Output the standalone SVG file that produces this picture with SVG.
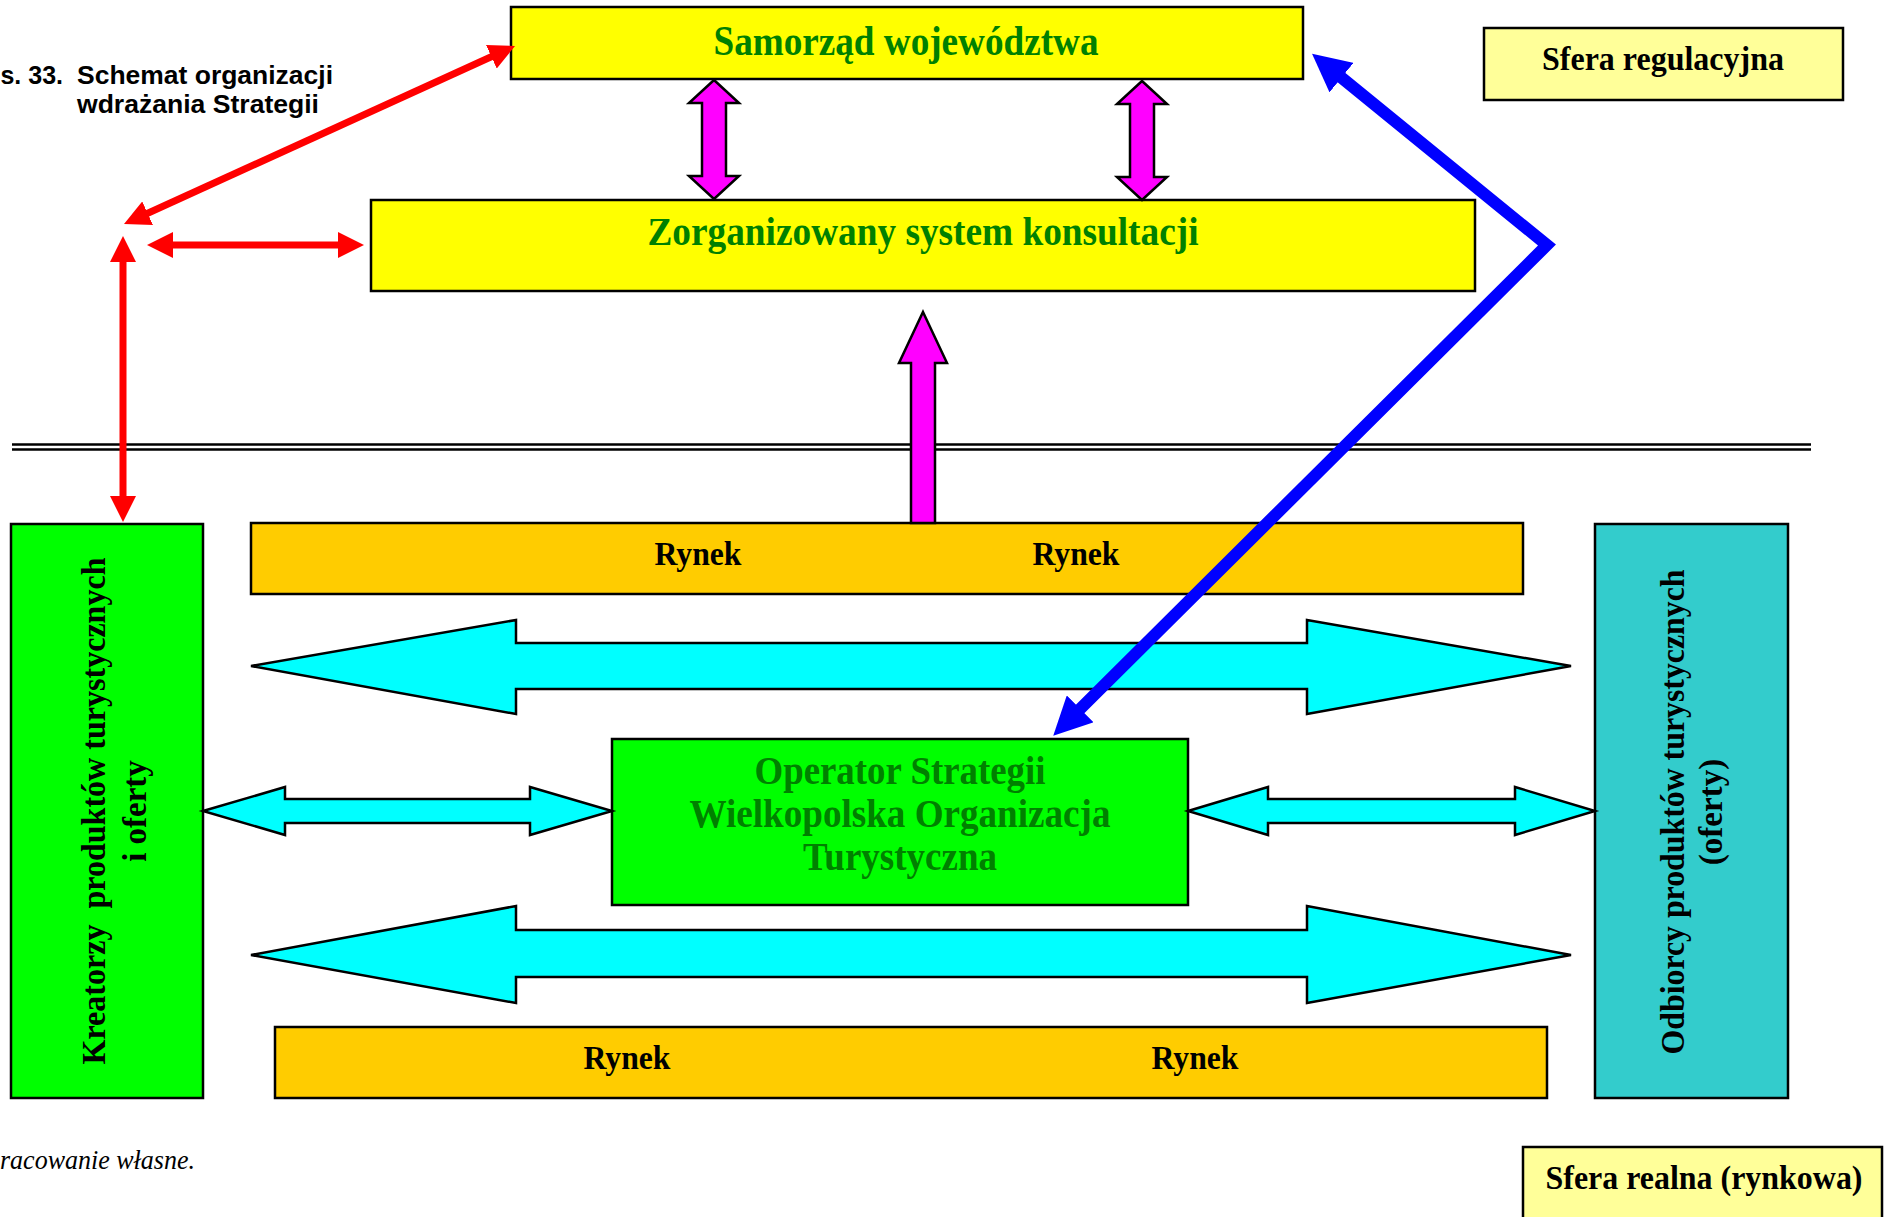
<svg xmlns="http://www.w3.org/2000/svg" width="1885" height="1217" viewBox="0 0 1885 1217">
<style>
.box{stroke:#000;stroke-width:2.5}
.t{font-family:"Liberation Serif","Times New Roman",serif;font-weight:bold;text-anchor:middle}
.g{fill:#008000}
.k{fill:#000}
.cap{font-family:"Liberation Sans",Arial,sans-serif;font-weight:bold;fill:#000}
.cy{fill:#00FFFF;stroke:#000;stroke-width:2.5;stroke-linejoin:miter}
.mg{fill:#FF00FF;stroke:#000;stroke-width:2.5}
.red{stroke:#FF0000;stroke-width:7;fill:none}
.blue{stroke:#0000FF;stroke-width:12;fill:none;stroke-linejoin:miter}
</style>
<defs>
<marker id="rh" viewBox="0 0 26 26" markerUnits="userSpaceOnUse" markerWidth="26" markerHeight="26" refX="15" refY="13" orient="auto-start-reverse">
<path d="M0,0 L26,13 L0,26 z" fill="#FF0000"/>
</marker>
<marker id="bh" viewBox="0 0 38 38" markerUnits="userSpaceOnUse" markerWidth="38" markerHeight="38" refX="20" refY="19" orient="auto-start-reverse">
<path d="M0,0 L38,19 L0,38 z" fill="#0000FF"/>
</marker>
</defs>
<rect width="1885" height="1217" fill="#fff"/>

<g id="separator">
<line x1="12" y1="444.5" x2="1811" y2="444.5" stroke="#000" stroke-width="2.5"/>
<line x1="12" y1="449.5" x2="1811" y2="449.5" stroke="#000" stroke-width="2.5"/>
</g>

<g id="caption">
<text class="cap" x="63" y="84" font-size="25" text-anchor="end">s. 33.</text>
<text class="cap" x="77" y="84" font-size="25" textLength="256" lengthAdjust="spacingAndGlyphs">Schemat organizacji</text>
<text class="cap" x="77" y="113" font-size="25" textLength="242" lengthAdjust="spacingAndGlyphs">wdrażania Strategii</text>
</g>

<g id="source">
<text x="0" y="1169" font-family="Liberation Serif,'Times New Roman',serif" font-style="italic" font-size="27" fill="#000" textLength="195" lengthAdjust="spacingAndGlyphs">racowanie własne.</text>
</g>

<g id="samorzad">
<rect class="box" x="511" y="7" width="792" height="72" fill="#FFFF00"/>
<text class="t g" x="906" y="55" font-size="42" textLength="385" lengthAdjust="spacingAndGlyphs">Samorząd województwa</text>
</g>

<g id="sfera-regulacyjna">
<rect class="box" x="1484" y="28" width="359" height="72" fill="#FFFF99"/>
<text class="t k" x="1663" y="70" font-size="34" textLength="242" lengthAdjust="spacingAndGlyphs">Sfera regulacyjna</text>
</g>

<g id="konsultacje">
<rect class="box" x="371" y="200" width="1104" height="91" fill="#FFFF00"/>
<text class="t g" x="923" y="245" font-size="41" textLength="551" lengthAdjust="spacingAndGlyphs">Zorganizowany system konsultacji</text>
</g>

<g id="kreatorzy">
<rect class="box" x="11" y="524" width="192" height="574" fill="#00FF00"/>
<text class="t k" transform="translate(105,811) rotate(-90)" font-size="33" textLength="507" lengthAdjust="spacingAndGlyphs" style="white-space:pre">Kreatorzy  produktów turystycznych</text>
<text class="t k" transform="translate(146,811) rotate(-90)" font-size="33">i oferty</text>
</g>

<g id="odbiorcy">
<rect class="box" x="1595" y="524" width="193" height="574" fill="#33CCCC"/>
<text class="t k" transform="translate(1684,812) rotate(-90)" font-size="33" textLength="485" lengthAdjust="spacingAndGlyphs">Odbiorcy produktów turystycznych</text>
<text class="t k" transform="translate(1722,812) rotate(-90)" font-size="33">(oferty)</text>
</g>

<g id="rynek-gora">
<rect class="box" x="251" y="523" width="1272" height="71" fill="#FFCC00"/>
<text class="t k" x="698" y="565" font-size="34" textLength="87" lengthAdjust="spacingAndGlyphs">Rynek</text>
<text class="t k" x="1076" y="565" font-size="34" textLength="87" lengthAdjust="spacingAndGlyphs">Rynek</text>
</g>

<g id="operator">
<rect class="box" x="612" y="739" width="576" height="166" fill="#00FF00"/>
<text class="t g" x="900" y="784" font-size="41" textLength="291" lengthAdjust="spacingAndGlyphs">Operator Strategii</text>
<text class="t g" x="900" y="827" font-size="41" textLength="421" lengthAdjust="spacingAndGlyphs">Wielkopolska Organizacja</text>
<text class="t g" x="900" y="870" font-size="41" textLength="194" lengthAdjust="spacingAndGlyphs">Turystyczna</text>
</g>

<g id="rynek-dol">
<rect class="box" x="275" y="1027" width="1272" height="71" fill="#FFCC00"/>
<text class="t k" x="627" y="1069" font-size="34" textLength="87" lengthAdjust="spacingAndGlyphs">Rynek</text>
<text class="t k" x="1195" y="1069" font-size="34" textLength="87" lengthAdjust="spacingAndGlyphs">Rynek</text>
</g>

<g id="sfera-realna">
<rect class="box" x="1523" y="1147" width="359" height="85" fill="#FFFF99"/>
<text class="t k" x="1704" y="1189" font-size="34" textLength="317" lengthAdjust="spacingAndGlyphs">Sfera realna (rynkowa)</text>
</g>

<g id="connectors">
<polygon class="cy" points="251,666 516,620 516,643 1307,643 1307,620 1571,666 1307,714 1307,689 516,689 516,714"/>
<polygon class="cy" points="251,955 516,906 516,930 1307,930 1307,906 1571,955 1307,1003 1307,977 516,977 516,1003"/>
<polygon class="cy" points="203,811 285,787 285,799 530,799 530,787 612,811 530,835 530,823 285,823 285,835"/>
<polygon class="cy" points="1188,811 1268,787 1268,799 1515,799 1515,787 1595,811 1515,835 1515,823 1268,823 1268,835"/>
<polygon class="mg" points="714,80 739,103 726,103 726,176 739,176 714,199 689,176 702,176 702,103 689,103"/>
<polygon class="mg" points="1142,81 1167,104 1154,104 1154,177 1167,177 1142,200 1117,177 1130,177 1130,104 1117,104"/>
<polygon class="mg" points="923,312 947,363 935,363 935,523 911,523 911,363 899,363"/>
<line class="red" x1="134" y1="219.5" x2="505" y2="50.5" marker-start="url(#rh)" marker-end="url(#rh)"/>
<line class="red" x1="158" y1="245" x2="353" y2="245" marker-start="url(#rh)" marker-end="url(#rh)"/>
<line class="red" x1="123" y1="247" x2="123" y2="511" marker-start="url(#rh)" marker-end="url(#rh)"/>
<path class="blue" d="M1326,65 L1547,245 L1066,723" marker-start="url(#bh)" marker-end="url(#bh)"/>
</g>
</svg>
